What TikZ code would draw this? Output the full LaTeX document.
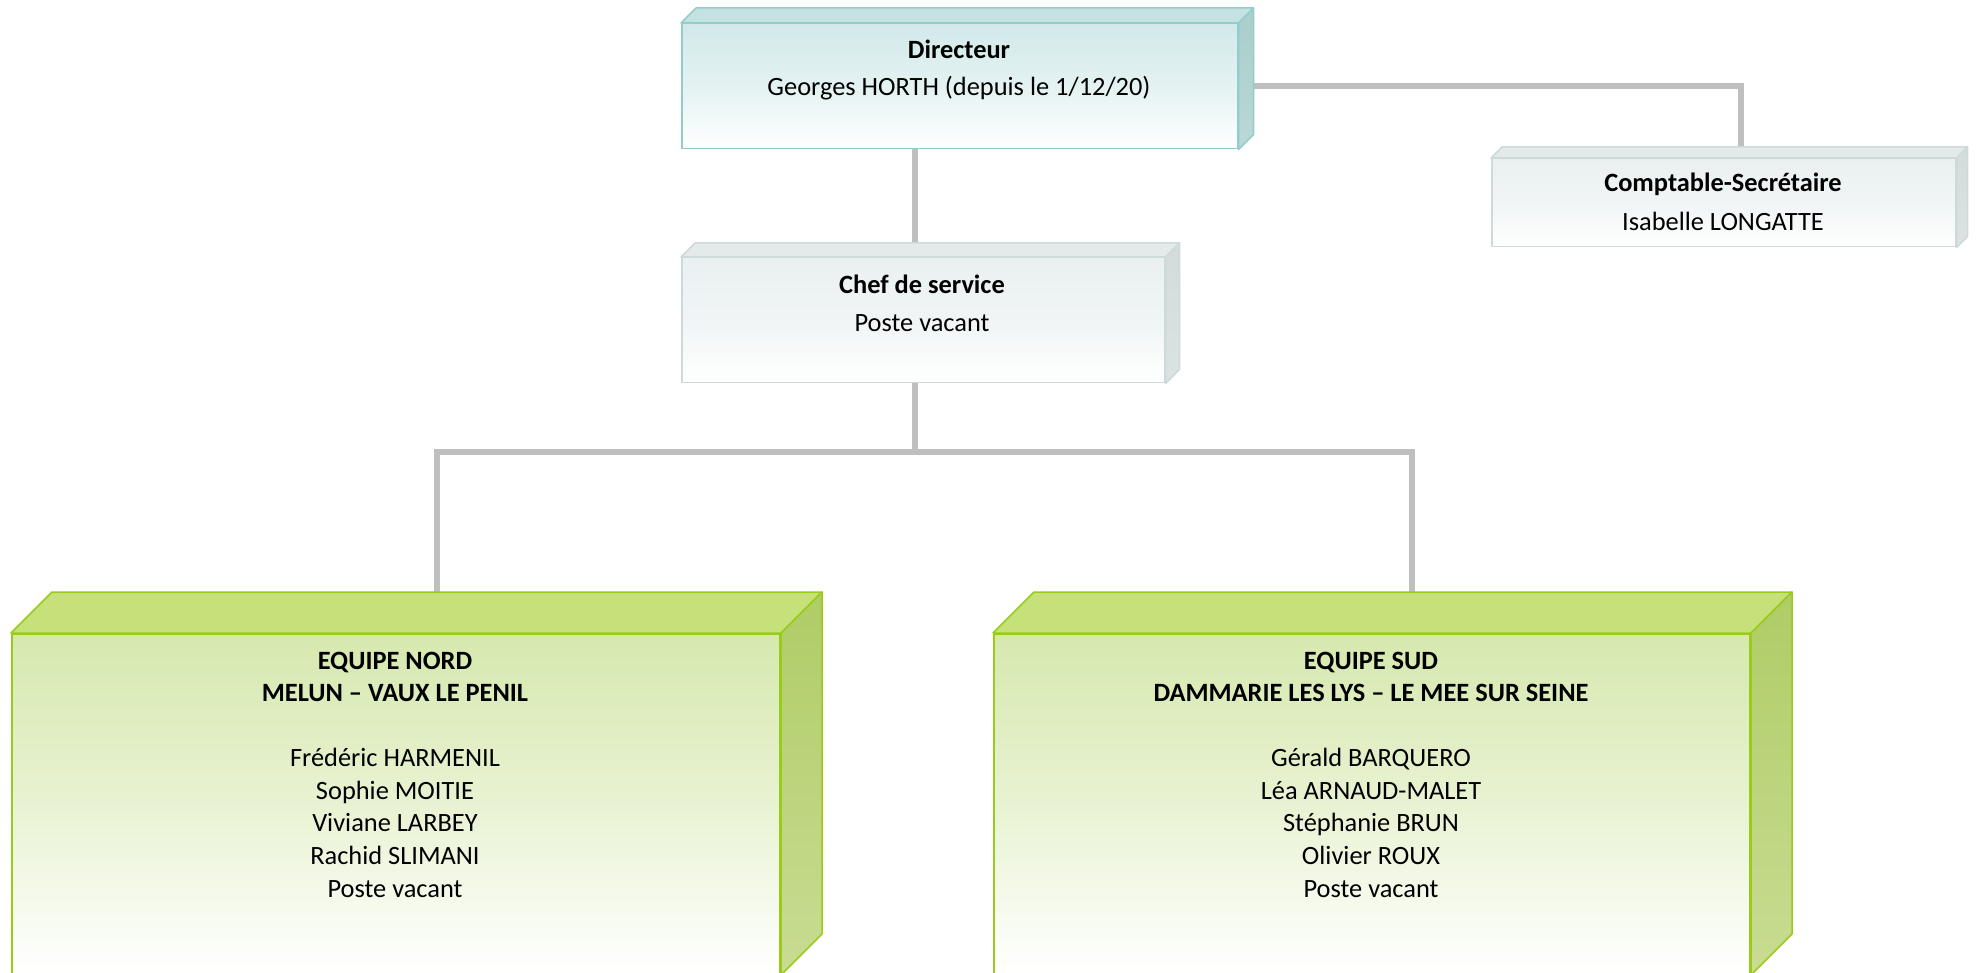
\documentclass[tikz,border=0pt]{standalone}
\usepackage{fontspec}
\setmainfont{Carlito}
\usetikzlibrary{backgrounds,calc}
\definecolor{conncol}{HTML}{BFBFBF}
\definecolor{dirborder}{HTML}{93CDCB}
\definecolor{dirtop}{HTML}{C4E2E1}
\definecolor{dirside}{HTML}{A9CECD}
\definecolor{dirfront}{HTML}{D2E9E9}
\definecolor{greyborder}{HTML}{CCDADA}
\definecolor{greytop}{HTML}{E4EAEA}
\definecolor{greyside}{HTML}{D3DBDB}
\definecolor{greyfront}{HTML}{EAF0F0}
\definecolor{grnborder}{HTML}{99CC1A}
\definecolor{grntop}{HTML}{C6E17A}
\definecolor{grnsideA}{HTML}{AFCC66}
\definecolor{grnsideB}{HTML}{C9DC93}
\definecolor{grnfront}{HTML}{D6E8AE}
\newcommand\drawcube[6]{% name, depth, topcol, sidetop, sidebottom, border
  \filldraw[#6, fill=#3, line width=0.75pt, line join=round]
    (#1.north west) -- ++(#2,-#2) -- ($(#1.north east)+(#2,-#2)$) -- (#1.north east) -- cycle;
  \shade[top color=#4, bottom color=#5]
    (#1.north east) -- ++(#2,-#2) -- ($(#1.south east)+(#2,-#2)$) -- (#1.south east) -- cycle;
  \draw[#6, line width=0.75pt, line join=round]
    (#1.north east) -- ++(#2,-#2) -- ($(#1.south east)+(#2,-#2)$) -- (#1.south east) -- cycle;
}
\begin{document}
\begin{tikzpicture}[x=0.5pt, y=-0.5pt,
  conn/.style={draw=conncol, line width=2.75pt},
  face/.style={anchor=north west, inner sep=0pt, line width=0.75pt},
  dirface/.style={face, draw=dirborder, top color=dirfront, bottom color=white, middle color=dirfront!60!white},
  greyface/.style={face, draw=greyborder, top color=greyfront, bottom color=white, middle color=greyfront!70!white},
  grnface/.style={face, draw=grnborder, line width=1pt, top color=grnfront, bottom color=white, middle color=grnfront!55!white},
  txt/.style={anchor=base, inner sep=0pt, font=\fontsize{13.2}{16.25}\selectfont},
  btxt/.style={txt, font=\fontsize{13.2}{16.25}\selectfont\bfseries}]
\useasboundingbox (0,0) rectangle (1988,973);

% front faces
\node[dirface, minimum width=278pt, minimum height=62.5pt] (dir) at (681,23) {};
\node[greyface, minimum width=241.5pt, minimum height=62.5pt] (chef) at (681,257) {};
\node[greyface, minimum width=232pt, minimum height=44pt] (comp) at (1491,158) {};
\node[grnface, minimum width=384pt, minimum height=170pt] (nord) at (11,633) {};
\node[grnface, minimum width=378pt, minimum height=170pt] (sud) at (993,633) {};

% depth faces
\drawcube{dir}{15}{dirtop}{dirside}{dirside!80!white}{dirborder}
\drawcube{chef}{14}{greytop}{greyside}{greyside!80!white}{greyborder}
\drawcube{comp}{11}{greytop}{greyside}{greyside!80!white}{greyborder}
\drawcube{nord}{41}{grntop}{grnsideA}{grnsideB}{grnborder}
\drawcube{sud}{41}{grntop}{grnsideA}{grnsideB}{grnborder}

% reference coordinates for connectors
\coordinate (x915) at (915,0);
\coordinate (x1741) at (1741,0);
\coordinate (x437) at (437,0);
\coordinate (x1412) at (1412,0);
\coordinate (y86) at (0,86);
\coordinate (bus) at (0,452);

\begin{scope}[on background layer]
  \fill[white] (0,0) rectangle (1988,973);
  \draw[conn] (dir.south -| x915) -- (chef.north -| x915);
  \draw[conn] (dir.east |- y86) -| (comp.north -| x1741);
  \draw[conn] (chef.south -| x915) -- (bus -| x915);
  \draw[conn] (nord.north -| x437) -- (bus -| x437) -- (bus -| x1412) -- (sud.north -| x1412);
\end{scope}

% texts
\node[btxt] (dirA) at (959,59) {Directeur};
\node[txt] (dirB) at (959,96) {Georges HORTH (depuis le 1/12/20)};
\node[btxt] (chefA) at (922,294) {Chef de service};
\node[txt] (chefB) at (922,332) {Poste vacant};
\node[btxt] (compA) at (1723,192) {Comptable-Secrétaire};
\node[txt] (compB) at (1723,231) {Isabelle LONGATTE};

\node[btxt] (nordA) at (395,669) {EQUIPE NORD};
\node[btxt] (nordB) at (395,701) {MELUN – VAUX LE PENIL};
\node[txt] (nord1) at (395,766) {Frédéric HARMENIL};
\node[txt] (nord2) at (395,799) {Sophie MOITIE};
\node[txt] (nord3) at (395,831) {Viviane LARBEY};
\node[txt] (nord4) at (395,864) {Rachid SLIMANI};
\node[txt] (nord5) at (395,897) {Poste vacant};

\node[btxt] (sudA) at (1371,669) {EQUIPE SUD};
\node[btxt] (sudB) at (1371,701) {DAMMARIE LES LYS – LE MEE SUR SEINE};
\node[txt] (sud1) at (1371,766) {Gérald BARQUERO};
\node[txt] (sud2) at (1371,799) {Léa ARNAUD-MALET};
\node[txt] (sud3) at (1371,831) {Stéphanie BRUN};
\node[txt] (sud4) at (1371,864) {Olivier ROUX};
\node[txt] (sud5) at (1371,897) {Poste vacant};
\end{tikzpicture}
\end{document}
